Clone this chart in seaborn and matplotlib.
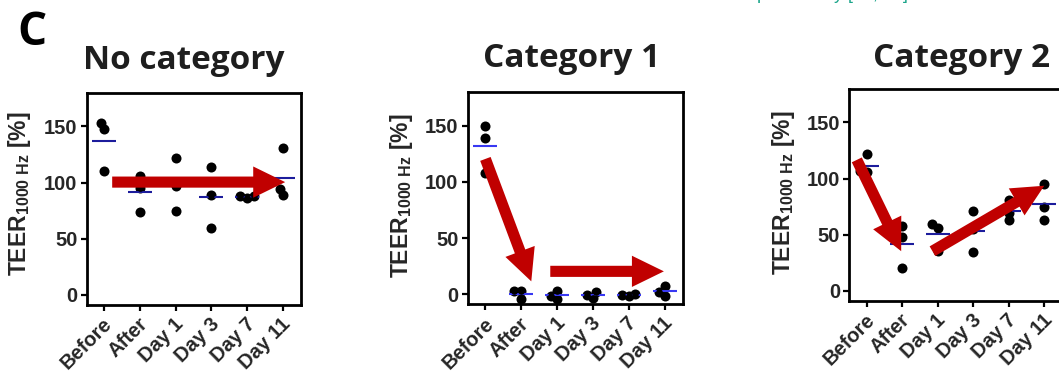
import numpy as np
import pandas as pd
import seaborn as sns
import matplotlib.pyplot as plt
from matplotlib.transforms import ScaledTranslation

times = ['Before', 'After', 'Day 1', 'Day 3', 'Day 7', 'Day 11']
titles = ['No category', 'Category 1', 'Category 2']

# three wells per time point, TEER relative to start [%]
no_category = [[153, 147.6, 110.5], [106, 95, 73.4], [121.5, 97.1, 75.1],
               [113.7, 88.5, 60], [87.9, 86.4, 87.9], [131, 88.5, 93.9]]
category_1 = [[150, 138.8, 107.7], [2.7, -3.8, 2.7], [3.3, -4.1, -1.2],
              [2.4, -3, -0.6], [0.6, -1.5, -0.3], [7.1, -1.2, 2]]
category_2 = [[121.9, 105.4, 106.6], [48.4, 20.4, 57.8], [59.9, 56.1, 35.5],
              [70.9, 35.1, 55.1], [62.9, 80.9, 69.4], [94.8, 74.4, 63.2]]
panels = [no_category, category_1, category_2]

W, H = 1059, 377
sns.set_theme(style='ticks')
plt.rcParams['font.family'] = ['Liberation Sans', 'DejaVu Sans']
plt.rcParams['mathtext.fontset'] = 'custom'
plt.rcParams['mathtext.rm'] = 'Liberation Sans:bold'
plt.rcParams['mathtext.it'] = 'Liberation Sans:bold'
plt.rcParams['mathtext.bf'] = 'Liberation Sans:bold'

fig = plt.figure(figsize=(W / 100, H / 100), dpi=100)


def rect(left, top, right, bottom):
    return [left / W, 1 - bottom / H, (right - left) / W, (bottom - top) / H]


boxes = [(86.5, 92.6, 300.5, 305.1), (467.5, 91.9, 682.5, 304.4), (849, 88.6, 1062, 301.1)]
label_pos = [(33, 194), (415, 196), (797, 193)]
title_pos = [(82.7, 69), (483.3, 66.7), (873, 66.7)]
mean_colors = ['#1c1c9c', '#3838f2', '#1c1c9c']
red = '#c00000'
arrows = [
    [((0.22, 100.4), (5.07, 100.4))],
    [((0.0, 120.4), (1.28, 11.5)), ((1.81, 20.4), (4.98, 20.4))],
    [((-0.28, 116.6), (0.97, 35.4)), ((1.85, 35.4), (5.0, 93.6))],
]
label_shift = ScaledTranslation(5 / 100, -3 / 100, fig.dpi_scale_trans)

axes = []
for i, values in enumerate(panels):
    df = pd.DataFrame({'time': np.repeat(times, 3), 'teer': np.ravel(values)})
    ax = fig.add_axes(rect(*boxes[i]))
    # tight swarm (dots overlap a little, like the original)
    sns.swarmplot(data=df, x='time', y='teer', order=times, color='black', size=4.8, ax=ax)
    sns.pointplot(data=df, x='time', y='teer', order=times, estimator='mean', errorbar=None,
                  color=mean_colors[i], marker='_', markersize=17, markeredgewidth=1.5,
                  linestyle='none', ax=ax)
    for tail, tip in arrows[i]:
        ax.annotate('', xy=tip, xytext=tail, zorder=5, annotation_clip=False,
                    arrowprops=dict(arrowstyle='simple,head_length=2.3,head_width=2.25,tail_width=0.8',
                                    mutation_scale=10, fc=red, ec=red, lw=0, shrinkA=0, shrinkB=0))
    ax.set_xlim(-0.5, 5.5)
    ax.set_ylim(-9, 180)
    ax.set_yticks([0, 50, 100, 150])
    ax.set_xlabel('')
    ax.set_ylabel('TEER$_{1000\\ Hz}$ [%]', fontsize=16.5, fontweight='bold')
    ax.yaxis.set_label_coords(label_pos[i][0] / W, 1 - label_pos[i][1] / H, transform=fig.transFigure)
    for s in ax.spines.values():
        s.set_visible(True)
        s.set_linewidth(2)
        s.set_color('black')
    ax.tick_params(axis='both', length=4.5, width=1.6, color='black', labelsize=14.5)
    ax.tick_params(axis='y', pad=2)
    ax.tick_params(axis='x', pad=5)
    for lbl in ax.get_xticklabels() + ax.get_yticklabels():
        lbl.set_fontweight('bold')
    for lbl in ax.get_xticklabels():
        lbl.set_rotation(45)
        lbl.set_ha('right')
        lbl.set_va('center')
        lbl.set_rotation_mode('anchor')
        lbl.set_transform(lbl.get_transform() + label_shift)
    fig.text(title_pos[i][0] / W, 1 - title_pos[i][1] / H, titles[i], ha='left', va='baseline',
             fontsize=24, fontweight='bold', family='Open Sans', color='#1e1e1e')
    axes.append(ax)

# swarm positions are computed at draw time; redraw the dots at full size on them
fig.canvas.draw()
for ax in axes:
    pts = np.concatenate([c.get_offsets() for c in ax.collections])
    ax.scatter(pts[:, 0], pts[:, 1], s=52, color='black', linewidths=0, zorder=1.5)

fig.text(17 / W, 1 - 45 / H, 'C', ha='left', va='baseline', fontsize=33,
         fontweight='bold', family='Open Sans', color='black')
fig.text(757 / W, 1 + 1 / H, 'p', ha='left', va='baseline', fontsize=13, color='#1aa58a')
fig.text(834 / W, 1 + 1 / H, 'y [13, 14]', ha='left', va='baseline', fontsize=13, color='#1aa58a')

fig.savefig('out.png', dpi=100)
